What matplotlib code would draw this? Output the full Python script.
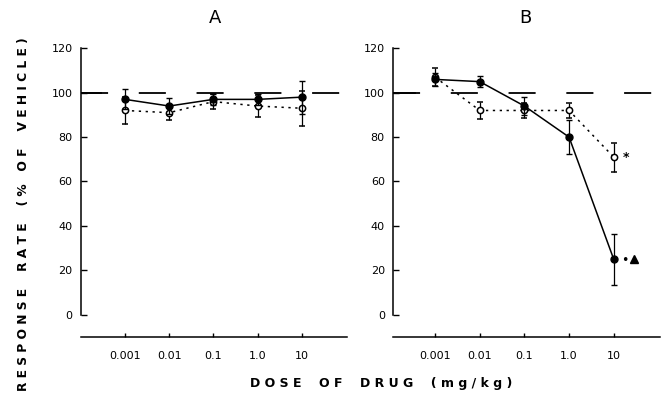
import matplotlib
matplotlib.use("Agg")
import matplotlib.pyplot as plt
import numpy as np

doses = [0.001, 0.01, 0.1, 1.0, 10]
dose_labels = ["0.001", "0.01", "0.1", "1.0", "10"]
yticks = [0, 20, 40, 60, 80, 100, 120]

# Panel A
a_filled = [97, 94, 97, 97, 98]
a_filled_err = [4.5, 3.5, 2.5, 2.5, 7.5]
a_open = [92, 91, 96, 94, 93]
a_open_err = [6, 3.5, 3.5, 5, 8]

# Panel B
b_filled = [106, 105, 94, 80, 25]
b_filled_err = [3, 2.5, 4, 7.5, 11.5]
b_open = [107, 92, 92, 92, 71]
b_open_err = [4, 4, 3.5, 3.5, 6.5]

fig = plt.figure(figsize=(6.63, 4.01), dpi=100)
font = "DejaVu Sans"

def setup(ax, xlim):
    ax.set_xscale("log")
    ax.set_xlim(*xlim)
    ax.set_ylim(-10, 121)
    for s in ["top", "right"]:
        ax.spines[s].set_visible(False)
    ax.spines["left"].set_bounds(0, 120)
    ax.spines["left"].set_linewidth(1.1)
    ax.spines["bottom"].set_linewidth(1.1)
    ax.set_yticks(yticks)
    ax.set_yticklabels([str(v) for v in yticks], fontsize=8, family=font)
    ax.set_xticks(doses)
    ax.set_xticklabels(dose_labels, fontsize=8, family=font)
    ax.minorticks_off()
    ax.tick_params(axis="y", direction="in", length=4, width=1, pad=6)
    ax.tick_params(axis="x", direction="in", length=3, width=1, pad=10)
    ax.patch.set_alpha(0)

def draw(ax, filled, ferr, opn, oerr):
    ax.axhline(100, color="black", lw=1.3, linestyle=(0, (15, 17)), zorder=1)
    ax.errorbar(doses, opn, yerr=oerr, fmt="o", color="black", mfc="white", mec="black",
                ms=4.5, mew=1.1, linestyle=(0, (1.5, 3)), lw=1.1, capsize=2.2, elinewidth=0.9, zorder=3)
    ax.errorbar(doses, filled, yerr=ferr, fmt="o", color="black", ms=5,
                linestyle="-", lw=1.1, capsize=2.2, elinewidth=0.9, zorder=4)

axA = fig.add_axes([0.122, 0.160, 0.401, 0.725])
setup(axA, (1e-4, 10 ** 2.02))
draw(axA, a_filled, a_filled_err, a_open, a_open_err)
axA.plot([1e-4, 10 ** -3.55], [100, 100], color="black", lw=1.3, zorder=2)

axB = fig.add_axes([0.593, 0.160, 0.402, 0.725])
setup(axB, (10 ** -3.94, 10 ** 2.03))
draw(axB, b_filled, b_filled_err, b_open, b_open_err)
axB.plot([10 ** -3.94, 10 ** -3.45], [100, 100], color="black", lw=1.3, zorder=2)
axB.text(16, b_open[4], "*", fontsize=9, va="center", ha="left", family=font, fontweight="bold")
axB.text(15, b_filled[4] - 0.5, "•", fontsize=9, va="center", ha="left", family=font)
axB.plot([28], [b_filled[4]], marker="^", color="black", ms=5.5)

fig.text(0.325, 0.955, "A", fontsize=13, ha="center", va="center", family=font)
fig.text(0.792, 0.955, "B", fontsize=13, ha="center", va="center", family=font)
fig.text(0.035, 0.465, "R E S P O N S E    R A T E    ( %   O F    V E H I C L E )",
         rotation=90, fontsize=8.8, ha="center", va="center", family=font, fontweight="bold")
fig.text(0.575, 0.043, "D O S E    O F    D R U G    ( m g / k g )",
         fontsize=9, ha="center", va="center", family=font, fontweight="bold")

fig.savefig("out.png", dpi=100)
